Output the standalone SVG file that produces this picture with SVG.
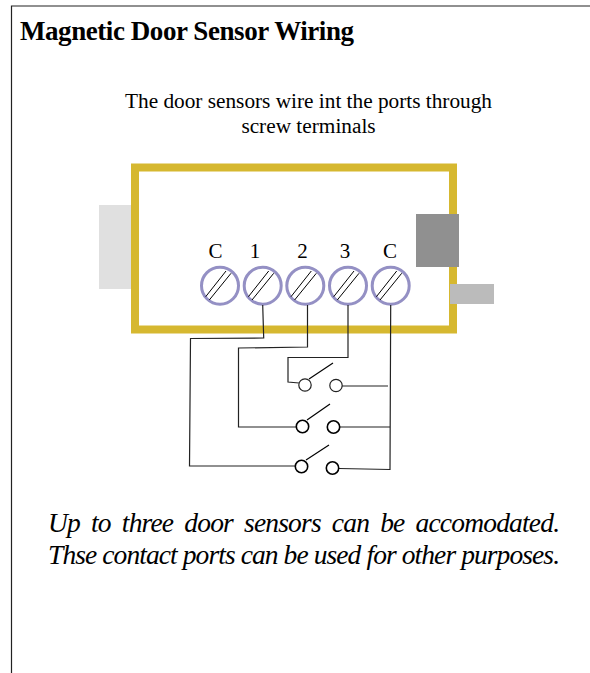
<svg xmlns="http://www.w3.org/2000/svg" width="590" height="673" viewBox="0 0 590 673">
<style>
text{font-family:"Liberation Serif","Times New Roman",serif;fill:#000}
.title{font-size:27px;font-weight:bold}
.intro{font-size:21.3px;text-anchor:middle}
.lbl{font-size:21px;text-anchor:middle}
.note{font-size:27.5px;font-style:italic}
.screw{fill:#fff;stroke:#9490c4;stroke-width:3}
.slot{stroke:#000;stroke-width:1;fill:none}
.wire{stroke:#222;stroke-width:1.2;fill:none}
.pin{fill:#fff;stroke:#000;stroke-width:1.6}
.arm{stroke:#000;stroke-width:1.2}
</style>
<defs>
<g id="screw"><circle class="screw" r="18.5"/><path class="slot" d="M-14.3 11L6 -14.7M-10.7 14.3L11 -12.4"/></g>
</defs>
<rect width="590" height="673" fill="#fff"/>
<path id="frame" d="M590 6H11.500V673" fill="none" stroke="#222" stroke-width="1.2"/>
<text class="title" x="20" y="40" textLength="334" lengthAdjust="spacing">Magnetic Door Sensor Wiring</text>
<text class="intro" x="308.500" y="108" textLength="367" lengthAdjust="spacing">The door sensors wire int the ports through</text>
<text class="intro" x="308.500" y="133">screw terminals</text>
<g id="enclosure">
<rect x="99" y="205" width="33" height="84" fill="#e0e0e0"/>
<rect x="135" y="167.500" width="318" height="162" fill="#fff" stroke="#d6b830" stroke-width="8"/>
<rect x="416" y="214" width="43" height="53" fill="#909090"/>
<rect x="450" y="284" width="44" height="20" fill="#bbbbbb"/>
</g>
<g id="terminals">
<g id="terminal-c1"><text class="lbl" x="215.500" y="257.500">C</text><use href="#screw" x="220" y="285.700"/></g>
<g id="terminal-1"><text class="lbl" x="255" y="257.500">1</text><use href="#screw" x="262.700" y="285.700"/></g>
<g id="terminal-2"><text class="lbl" x="302.500" y="257.500">2</text><use href="#screw" x="305.300" y="285.700"/></g>
<g id="terminal-3"><text class="lbl" x="345" y="257.500">3</text><use href="#screw" x="348" y="285.700"/></g>
<g id="terminal-c2"><text class="lbl" x="390" y="257.500">C</text><use href="#screw" x="390.700" y="285.700"/></g>
</g>
<g id="connectors">
<path class="wire" d="M262.700 305L263.700 338L190.500 338.500L189.500 466H295"/>
<path class="wire" d="M307.500 305V347L238.500 348V427H296"/>
<path class="wire" d="M348 305V357.500H288V382L299 383"/>
<path class="wire" d="M390.700 305L390 469.500L339 468.500"/>
<path class="wire" d="M342 386H388"/>
<path class="wire" d="M340 427H390"/>
</g>
<g id="switch-1">
<line class="arm" x1="309" y1="379" x2="333" y2="363"/>
<circle cx="305" cy="385" r="6.200" fill="#fff" stroke="#222" stroke-width="1.200"/>
<circle cx="336" cy="385.500" r="6.200" fill="#fff" stroke="#222" stroke-width="1.200"/>
</g>
<g id="switch-2">
<line class="arm" x1="307" y1="420" x2="330" y2="404"/>
<circle class="pin" cx="302.500" cy="426.500" r="6.200"/>
<circle class="pin" cx="333.500" cy="427" r="6.200"/>
</g>
<g id="switch-3">
<line class="arm" x1="306" y1="460" x2="329" y2="445"/>
<circle class="pin" cx="301.500" cy="466.500" r="6.200"/>
<circle class="pin" cx="332.500" cy="468" r="6.200"/>
</g>
<text class="note" x="48" y="532" textLength="512" lengthAdjust="spacing" word-spacing="5">Up to three door sensors can be accomodated.</text>
<text class="note" x="48" y="564" textLength="512" lengthAdjust="spacing">Thse contact ports can be used for other purposes.</text>
</svg>
